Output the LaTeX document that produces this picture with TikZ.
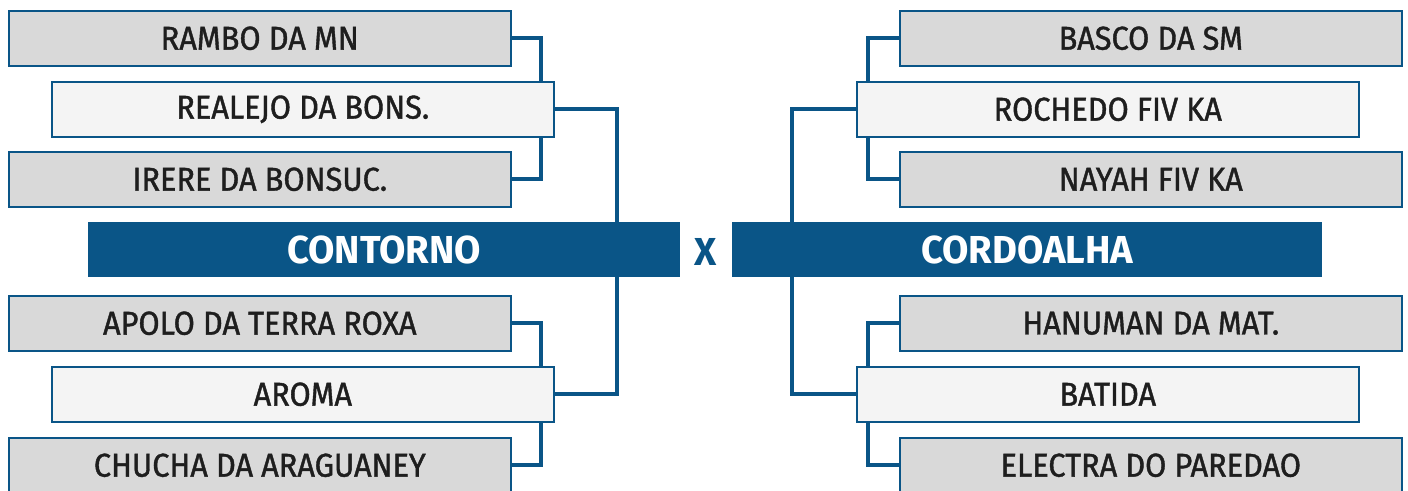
\documentclass[tikz,border=0pt]{standalone}
\usepackage{fontspec}
\setmainfont{Fira Sans}[FakeStretch=0.93,FakeBold=1.2]
\newfontfamily\bannerfont{Fira Sans Bold}[FakeStretch=0.98]
\pgfdeclarelayer{bg}
\pgfsetlayers{bg,main}
\definecolor{navy}{HTML}{0A5587}
\definecolor{boxgray}{HTML}{D9D9D9}
\definecolor{boxlight}{HTML}{F4F4F4}
\definecolor{txt}{HTML}{1E1E1E}
\begin{document}
\begin{tikzpicture}[x=1pt,y=-1pt,
  team/.style={draw=navy,line width=1.6pt,minimum width=502pt,minimum height=55pt,inner sep=0pt,
    font=\fontsize{33}{35}\selectfont,text=txt},
  outer/.style={team,fill=boxgray},
  inner/.style={team,fill=boxlight},
  banner/.style={fill=navy,inner sep=0pt,minimum height=55pt,font=\bannerfont\fontsize{39}{41}\selectfont,text=white},
  conn/.style={draw=navy,line width=4pt}]
\useasboundingbox (0,0) rectangle (1408,490);
\clip (0,0) rectangle (1408,490);
% left
\node[outer,anchor=north west] (rambo) at (8,10) {RAMBO DA MN};
\node[inner,anchor=north west] (realejo) at (51,81) {REALEJO DA BONS.};
\node[outer,anchor=north west] (irere) at (8,151) {IRERE DA BONSUC.};
\node[banner,minimum width=592pt,anchor=north west] (contorno) at (88,222) {CONTORNO};
\node[outer,anchor=north west] (apolo) at (8,295) {APOLO DA TERRA ROXA};
\node[inner,anchor=north west] (aroma) at (51,366) {AROMA};
\node[outer,anchor=north west] (chucha) at (8,437) {CHUCHA DA ARAGUANEY};
% middle
\node[text=navy,font=\bannerfont\fontsize{39}{41}\selectfont] (x) at (706,252) {X};
% right
\node[outer,anchor=north west] (basco) at (899,10) {BASCO DA SM};
\node[inner,anchor=north west] (rochedo) at (856,81) {ROCHEDO FIV KA};
\node[outer,anchor=north west] (nayah) at (899,151) {NAYAH FIV KA};
\node[banner,minimum width=590pt,anchor=north west] (cordoalha) at (732,222) {CORDOALHA};
\node[outer,anchor=north west] (hanuman) at (899,295) {HANUMAN DA MAT.};
\node[inner,anchor=north west] (batida) at (856,366) {BATIDA};
\node[outer,anchor=north west] (electra) at (899,437) {ELECTRA DO PAREDAO};
\begin{pgfonlayer}{bg}
\coordinate (lq) at (541,0);
\coordinate (ls) at (617,0);
\coordinate (rs) at (792,0);
\coordinate (rq) at (868,0);
\draw[conn] (rambo.east) -| (lq |- realejo.north);
\draw[conn] (realejo.south -| lq) |- (irere.east);
\draw[conn] (apolo.east) -| (lq |- aroma.north);
\draw[conn] (aroma.south -| lq) |- (chucha.east);
\draw[conn] (realejo.east) -| (ls |- contorno.north);
\draw[conn] (aroma.east) -| (ls |- contorno.south);
\draw[conn] (basco.west) -| (rq |- rochedo.north);
\draw[conn] (rochedo.south -| rq) |- (nayah.west);
\draw[conn] (hanuman.west) -| (rq |- batida.north);
\draw[conn] (batida.south -| rq) |- (electra.west);
\draw[conn] (rochedo.west) -| (rs |- cordoalha.north);
\draw[conn] (batida.west) -| (rs |- cordoalha.south);
\end{pgfonlayer}
\end{tikzpicture}
\end{document}
